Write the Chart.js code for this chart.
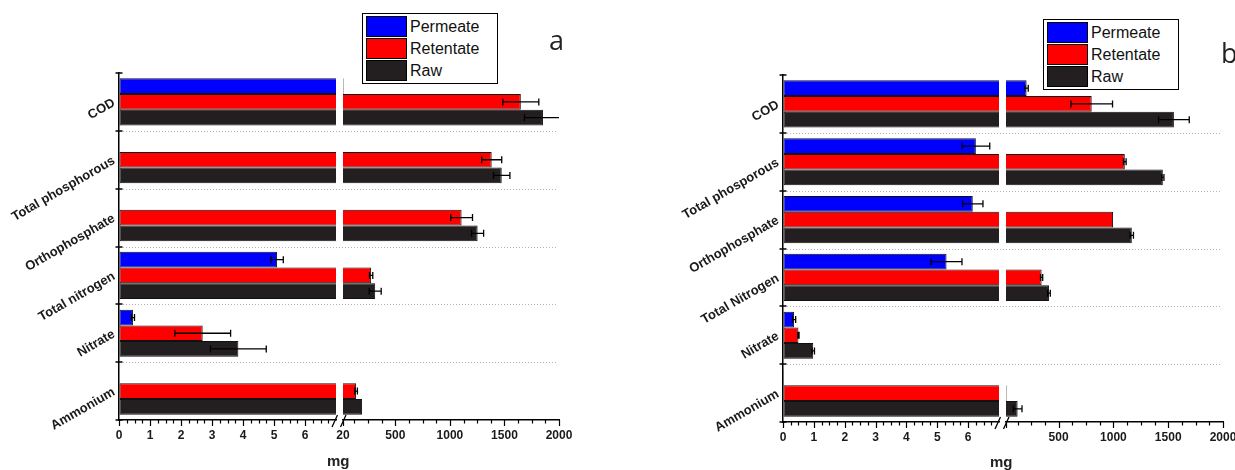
<!DOCTYPE html>
<html>
<head>
<meta charset="utf-8">
<script src="https://cdn.jsdelivr.net/npm/chart.js@4/dist/chart.umd.min.js"></script>
<style>
  body { margin: 0; background: #fff; }
  #wrap { position: relative; width: 1235px; height: 470px; overflow: hidden; font-family: "Liberation Sans", Arial, sans-serif; }
  canvas { position: absolute; top: 0; }
  .legend { position: absolute; box-sizing: border-box; width: 136px; height: 71px; border: 1px solid #000; background: #fff; }
  .sw { position: absolute; left: 3px; width: 41px; height: 21px; box-sizing: border-box; border: 1px solid #000; }
  .lt { position: absolute; left: 47px; font-size: 16px; line-height: 21px; color: #111; }
  .mg { position: absolute; font-weight: bold; font-size: 15px; line-height: 15px; color: #222; }
  .tag { position: absolute; font-family: "Open Sans", sans-serif; font-size: 27px; line-height: 37px; color: #222; }
</style>
</head>
<body>
<div id="wrap">
  <canvas id="aLeft" width="620" height="470" style="left:0"></canvas>
  <canvas id="aRight" width="620" height="470" style="left:0"></canvas>
  <canvas id="bLeft" width="615" height="470" style="left:620px"></canvas>
  <canvas id="bRight" width="615" height="470" style="left:620px"></canvas>
  <div class="legend" id="legA" style="left:362px;top:13px"></div>
  <div class="legend" id="legB" style="left:1043px;top:19px"></div>
  <div class="tag" style="left:549px;top:21px">a</div>
  <div class="tag" style="left:1221px;top:34px">b</div>
  <div class="mg" style="left:327px;top:453px">mg</div>
  <div class="mg" style="left:990px;top:454px">mg</div>
</div>
<script>
// ==== DATA ====
const catsA = ['COD', 'Total phosphorous', 'Orthophosphate', 'Total nitrogen', 'Nitrate', 'Ammonium'];
const catsB = ['COD', 'Total phosporous', 'Orthophosphate', 'Total Nitrogen', 'Nitrate', 'Ammonium'];
const seriesNames = ['Permeate', 'Retentate', 'Raw'];
const seriesColors = ['#0000ff', '#ff0000', '#231f20'];

// panel a (mg)
const permeateA = [25, null, null, 5.1, 0.45, null];
const permeateErrA = [0, null, null, 0.2, 0.05, null];
const retentateA = [1650, 1383, 1107, 278, 2.7, 140];
const retentateErrA = [165, 92, 100, 15, 0.9, 12];
const rawA = [1853, 1475, 1254, 315, 3.85, 195];
const rawErrA = [170, 75, 55, 55, 0.9, 0];

// panel b (mg)
const permeateB = [208, 6.25, 6.15, 5.3, 0.36, 0.03];
const permeateErrB = [15, 0.45, 0.33, 0.5, 0.05, 0];
const retentateB = [802, 1104, 997, 345, 0.5, 25];
const retentateErrB = [190, 12, 0, 10, 0.02, 0];
const rawB = [1552, 1451, 1168, 412, 0.98, 126];
const rawErrB = [140, 10, 15, 12, 0.04, 40];

// tick labels
const lowLabels = [0, 1, 2, 3, 4, 5, 6];
const highLabelsA = [20, 500, 1000, 1500, 2000];
const highLabelsB = [500, 1000, 1500, 2000];
const highMajors = [20, 500, 1000, 1500, 2000];

// broken axis: low part 0..7, high part 20..2000
const lowRange = [0, 7];
const highRange = [20, 2000];

// minor tick positions (every 0.25 on the low part, every 125 on the high part)
const lowTicks = [];
for (let v = 0; v <= 7; v += 0.25) lowTicks.push(v);
const highTicks = [20];
for (let v = 125; v <= 2000; v += 125) highTicks.push(v);

// ==== plugin: error bars, axis ticks, dotted grid, break marks ====
function decorFor(cfg) {
  return {
    id: 'decor',
    afterDatasetsDraw(chart) {
      const { ctx, chartArea: a } = chart;
      const xs = chart.scales.x;
      ctx.save();
      ctx.beginPath();
      ctx.rect(a.left, a.top - 6, a.right - a.left, a.bottom - a.top + 12);
      ctx.clip();
      ctx.strokeStyle = '#000';
      ctx.lineWidth = 1.3;
      chart.data.datasets.forEach((ds, di) => {
        const meta = chart.getDatasetMeta(di);
        ds.errors.forEach((e, i) => {
          const v = ds.data[i];
          if (v == null || !e) return;
          const yy = meta.data[i].y;
          const x1 = xs.getPixelForValue(v - e), x2 = xs.getPixelForValue(v + e);
          ctx.beginPath();
          ctx.moveTo(x1, yy); ctx.lineTo(x2, yy);
          ctx.moveTo(x1, yy - 3.5); ctx.lineTo(x1, yy + 3.5);
          ctx.moveTo(x2, yy - 3.5); ctx.lineTo(x2, yy + 3.5);
          ctx.stroke();
        });
      });
      ctx.restore();
    },
    afterDraw(chart) {
      const { ctx, chartArea: a } = chart;
      const xs = chart.scales.x, ys = chart.scales.y;
      ctx.save();
      ctx.strokeStyle = '#000';
      ctx.lineWidth = 1.2;
      // x ticks
      xs.ticks.forEach(t => {
        if (cfg.skipMax && t.value === xs.max) return;
        const px = Math.round(xs.getPixelForValue(t.value)) + 0.5;
        const len = cfg.majors.includes(t.value) ? 6 : 3.5;
        ctx.beginPath();
        ctx.moveTo(px, a.bottom);
        ctx.lineTo(px, a.bottom + len);
        ctx.stroke();
      });
      const n = chart.data.labels.length;
      if (cfg.grid) {
        // category boundary ticks on the y axis
        ctx.lineWidth = 1.5;
        for (let i = 0; i <= n; i++) {
          const py = Math.round(ys.getPixelForValue(i - 0.5));
          ctx.beginPath();
          ctx.moveTo(a.left - 3.5, py); ctx.lineTo(a.left + 3.5, py);
          ctx.stroke();
        }
        // dotted separators
        ctx.strokeStyle = '#b4b4b4';
        ctx.lineWidth = 1;
        ctx.setLineDash([1, 2]);
        for (let i = 1; i < n; i++) {
          const py = Math.round(ys.getPixelForValue(i - 0.5)) + 0.5;
          ctx.beginPath();
          ctx.moveTo(a.left + 4, py); ctx.lineTo(cfg.xEnd, py);
          ctx.stroke();
        }
        ctx.setLineDash([]);
      }
      if (cfg.breakMarks) {
        ctx.strokeStyle = '#000';
        ctx.lineWidth = 1.3;
        const b = a.bottom, l = a.left;
        ctx.beginPath();
        ctx.moveTo(l - 11, b + 7); ctx.lineTo(l - 5.5, b - 5);
        ctx.moveTo(l - 2.5, b + 7); ctx.lineTo(l + 3, b - 5);
        ctx.stroke();
      }
      ctx.restore();
    }
  };
}

const tickFont = { family: 'Liberation Sans', size: 12, weight: 'bold' };
const catFont = { family: 'Liberation Sans', size: 13, weight: 'bold' };

function makePart(id, cats, vals, errs, part) {
  const datasets = vals.map((d, k) => ({
    label: seriesNames[k],
    data: d,
    errors: errs[k],
    backgroundColor: seriesColors[k],
    borderColor: '#111',
    borderWidth: 1,
    borderSkipped: false,
    categoryPercentage: 0.815,
    barPercentage: 1,
    clip: 0
  }));
  return new Chart(document.getElementById(id), {
    type: 'bar',
    data: { labels: cats, datasets: datasets },
    options: {
      indexAxis: 'y',
      responsive: false,
      animation: false,
      devicePixelRatio: 1,
      layout: { padding: part.pad },
      plugins: { legend: { display: false }, tooltip: { enabled: false } },
      scales: {
        x: {
          type: 'linear',
          min: part.range[0],
          max: part.range[1],
          afterBuildTicks: s => { s.ticks = part.ticks.map(v => ({ value: v })); },
          afterFit: s => { s.height = part.axisH; s.paddingLeft = 0; s.paddingRight = 0; },
          grid: { display: true, drawOnChartArea: false, drawTicks: true, tickLength: 6, tickColor: 'rgba(0,0,0,0)' },
          border: { display: true, color: '#000', width: 1.5 },
          ticks: {
            autoSkip: false, minRotation: 0, maxRotation: 0, padding: 2, color: '#1a1a1a', font: tickFont,
            callback: v => part.labels.includes(v) ? String(v) : ''
          }
        },
        y: {
          display: part.showY,
          afterFit: s => { if (part.showY) s.width = part.axisW; s.paddingTop = 0; s.paddingBottom = 0; },
          grid: { display: true, drawOnChartArea: false, drawTicks: true, tickLength: 3, tickColor: 'rgba(0,0,0,0)' },
          border: { display: true, color: '#000', width: 1.5 },
          ticks: { autoSkip: false, minRotation: 30, maxRotation: 30, padding: 2, color: '#1a1a1a', font: catFont }
        }
      }
    },
    plugins: [decorFor(part.decor)]
  });
}

// panel a
makePart('aLeft', catsA, [permeateA, retentateA, rawA], [permeateErrA, retentateErrA, rawErrA], {
  pad: { left: 0, top: 73, right: 284, bottom: 0 }, axisW: 119, axisH: 50, showY: true,
  range: lowRange, ticks: lowTicks, labels: lowLabels,
  decor: { majors: lowLabels.concat([7]), skipMax: true, grid: true, xEnd: 557, breakMarks: false }
});
makePart('aRight', catsA, [permeateA, retentateA, rawA], [permeateErrA, retentateErrA, rawErrA], {
  pad: { left: 343, top: 73, right: 61, bottom: 0 }, axisH: 50, showY: false,
  range: highRange, ticks: highTicks, labels: highLabelsA,
  decor: { majors: highMajors, skipMax: false, grid: false, breakMarks: true }
});

// panel b
makePart('bLeft', catsB, [permeateB, retentateB, rawB], [permeateErrB, retentateErrB, rawErrB], {
  pad: { left: 0, top: 75, right: 236, bottom: 0 }, axisW: 163, axisH: 48, showY: true,
  range: lowRange, ticks: lowTicks, labels: lowLabels,
  decor: { majors: lowLabels.concat([7]), skipMax: true, grid: true, xEnd: 601, breakMarks: false }
});
makePart('bRight', catsB, [permeateB, retentateB, rawB], [permeateErrB, retentateErrB, rawErrB], {
  pad: { left: 386, top: 75, right: 12, bottom: 0 }, axisH: 48, showY: false,
  range: highRange, ticks: highTicks, labels: highLabelsB,
  decor: { majors: highMajors, skipMax: false, grid: false, breakMarks: true }
});

// ==== legends ====
function buildLegend(el) {
  seriesNames.forEach((name, k) => {
    const sw = document.createElement('div');
    sw.className = 'sw';
    sw.style.top = (2 + k * 22) + 'px';
    sw.style.background = seriesColors[k];
    const t = document.createElement('div');
    t.className = 'lt';
    t.style.top = (2 + k * 22) + 'px';
    t.textContent = name;
    el.append(sw, t);
  });
}
buildLegend(document.getElementById('legA'));
buildLegend(document.getElementById('legB'));
</script>
</body>
</html>
